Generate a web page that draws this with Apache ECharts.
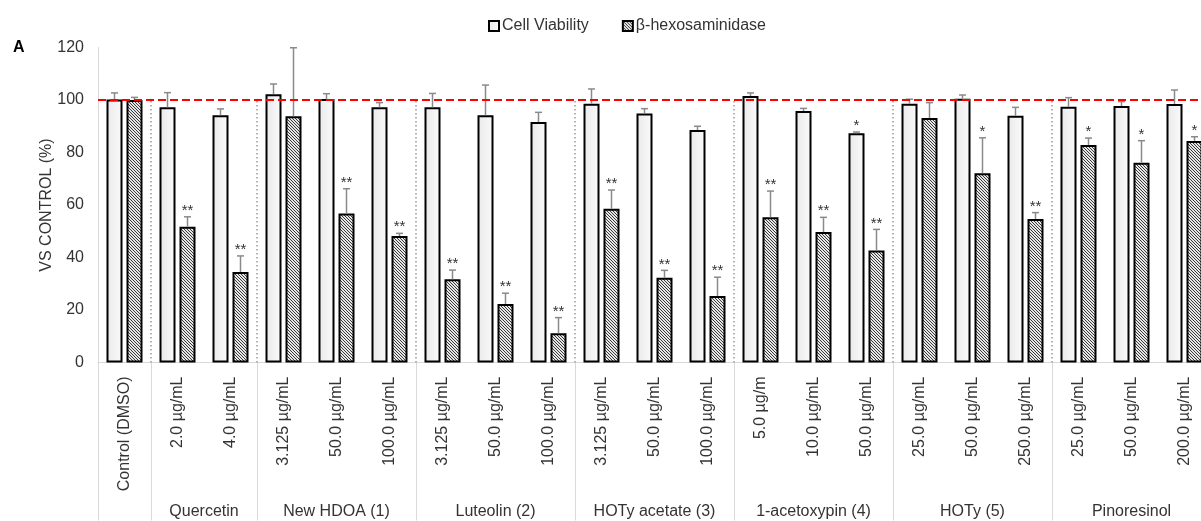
<!DOCTYPE html>
<html>
<head>
<meta charset="utf-8">
<script src="https://cdn.jsdelivr.net/npm/echarts@6/dist/echarts.min.js"></script>
<style>html,body{margin:0;padding:0;background:#fff;overflow:hidden;width:1201px;height:521px;}#c{width:1214px;height:521px;}</style>
</head>
<body>
<div id="c"></div>
<script>
const categories = ["Control (DMSO)", "2.0 µg/mL", "4.0 µg/mL", "3.125 µg/mL", "50.0 µg/mL", "100.0 µg/mL", "3.125 µg/mL", "50.0 µg/mL", "100.0 µg/mL", "3.125 µg/mL", "50.0 µg/mL", "100.0 µg/mL", "5.0 µg/m", "10.0 µg/mL", "50.0 µg/mL", "25.0 µg/mL", "50.0 µg/mL", "250.0 µg/mL", "25.0 µg/mL", "50.0 µg/mL", "200.0 µg/mL"];
const cellViability = [100.2, 97.2, 94.2, 102.2, 100.4, 97.2, 97.2, 94.2, 91.6, 98.6, 94.9, 88.6, 101.5, 95.8, 87.3, 98.6, 100.5, 94.0, 97.4, 97.7, 98.5];
const cellViabilityErr = [2.5, 5.6, 2.4, 3.9, 2.0, 1.8, 5.3, 11.5, 3.7, 5.6, 1.8, 1.4, 1.2, 1.0, 0.5, 1.7, 1.4, 3.2, 3.5, 1.7, 5.3];
const hexosaminidase = [100.0, 51.7, 34.5, 93.8, 56.8, 48.2, 31.7, 22.3, 11.1, 58.6, 32.3, 25.3, 55.3, 49.7, 42.7, 93.1, 72.1, 54.7, 82.9, 76.1, 84.4];
const hexosaminidaseErr = [1.0, 3.8, 6.1, 26.1, 9.4, 1.0, 3.5, 4.1, 6.0, 7.1, 2.8, 7.2, 10.0, 5.6, 8.0, 5.9, 13.5, 2.4, 2.6, 8.4, 1.6];
const cellViabilitySig = ["", "", "", "", "", "", "", "", "", "", "", "", "", "", "*", "", "", "", "", "", ""];
const hexosaminidaseSig = ["", "**", "**", "", "**", "**", "**", "**", "**", "**", "**", "**", "**", "**", "**", "", "*", "**", "*", "*", "*"];
const groupNames = ["Quercetin", "New HDOA (1)", "Luteolin (2)", "HOTy acetate (3)", "1-acetoxypin (4)", "HOTy (5)", "Pinoresinol"];
const groupStart = [1, 3, 6, 9, 12, 15, 18];
const groupSize = [2, 3, 3, 3, 3, 3, 3];
const yTicks = { min: 0, max: 120, interval: 20 };
const referenceLevel = 100;

const FONT = '"Liberation Sans", Arial, sans-serif';
const BAR_OFFSET = 10;

// hatch pattern
const hc = document.createElement('canvas');
hc.width = 3; hc.height = 3;
const hx = hc.getContext('2d');
hx.fillStyle = '#e6e6e6'; hx.fillRect(0, 0, 3, 3);
hx.fillStyle = '#3a3a3a';
for (let i = 0; i < 3; i++) hx.fillRect(i, i, 1, 1);
const hatch = { image: hc, repeat: 'repeat' };

const cvFill = { type: 'linear', x: 0, y: 0, x2: 1, y2: 0, colorStops: [{ offset: 0, color: '#e9e9e9' }, { offset: 1, color: '#fbfbfb' }] };

function errData(vals, errs) {
  return vals.map((v, i) => [i, v, errs[i], i]);
}

function errRender(offset, sigArr) {
  return function (params, api) {
    const i = api.value(0), v = api.value(1), e = api.value(2);
    const base = api.coord([i, v]);
    const top = api.coord([i, v + e]);
    const x = base[0] + offset;
    const children = [
      { type: 'line', shape: { x1: x, y1: base[1], x2: x, y2: top[1] }, style: { stroke: '#8a8a8a', lineWidth: 1.5 } },
      { type: 'line', shape: { x1: x - 3.5, y1: top[1], x2: x + 3.5, y2: top[1] }, style: { stroke: '#8a8a8a', lineWidth: 1.5 } }
    ];
    const s = sigArr[api.value(3)];
    if (s) {
      children.push({ type: 'text', style: { text: s, x: x, y: top[1] - 6, align: 'center', verticalAlign: 'middle', font: '15px ' + FONT, fill: '#333' } });
    }
    return { type: 'group', children };
  };
}

const chart = echarts.init(document.getElementById('c'));
chart.setOption({
  animation: false,
  textStyle: { fontFamily: FONT },
  graphic: [{ type: 'text', left: 13, top: 40, style: { text: 'A', font: 'bold 16px ' + FONT, fill: '#000' } }],
  legend: {
    left: 483, top: 13, itemWidth: 10, itemHeight: 10, itemGap: 33, icon: 'rect',
    textStyle: { fontSize: 16, color: '#333', fontFamily: FONT, padding: [0, 0, 0, -2] },
    data: ['Cell Viability', 'β-hexosaminidase']
  },
  grid: { left: 98, top: 47.5, height: 315, width: 1113, containLabel: false },
  xAxis: {
    type: 'category', data: categories,
    axisLine: { show: true, lineStyle: { color: '#d9d9d9', width: 1 } },
    axisTick: { show: true, length: 158, lineStyle: { color: '#d9d9d9', width: 1 },
      interval: function (idx) { return idx === 0 || groupStart.indexOf(idx) >= 0; } },
    axisLabel: { rotate: 90, fontSize: 16, color: '#333', margin: 14, interval: 0, fontFamily: FONT }
  },
  yAxis: {
    type: 'value', min: yTicks.min, max: yTicks.max, interval: yTicks.interval,
    name: 'VS CONTROL (%)', nameLocation: 'middle', nameGap: 43, nameMoveOverlap: false,
    nameTextStyle: { fontSize: 16, color: '#333', fontFamily: FONT },
    axisLine: { show: true, lineStyle: { color: '#d9d9d9', width: 1 } },
    axisTick: { show: false },
    splitLine: { show: false },
    axisLabel: { fontSize: 16, color: '#333', margin: 14, fontFamily: FONT }
  },
  series: [
    {
      name: 'Cell Viability', type: 'bar', data: cellViability, barWidth: 16, barGap: '25%',
      itemStyle: { color: cvFill, borderColor: '#000', borderWidth: 2 },
      z: 2,
      markLine: {
        silent: true, symbol: 'none', label: { show: false },
        lineStyle: { color: '#ff0000', type: [8, 4], width: 2 },
        data: [{ yAxis: referenceLevel }], z: 5
      }
    },
    {
      name: 'β-hexosaminidase', type: 'bar', data: hexosaminidase, barWidth: 16, barGap: '25%',
      itemStyle: { color: hatch, borderColor: '#000', borderWidth: 2 },
      z: 2
    },
    {
      type: 'custom', z: 3, silent: true,
      data: errData(cellViability, cellViabilityErr),
      renderItem: errRender(-BAR_OFFSET, cellViabilitySig)
    },
    {
      type: 'custom', z: 3, silent: true,
      data: errData(hexosaminidase, hexosaminidaseErr),
      renderItem: errRender(BAR_OFFSET, hexosaminidaseSig)
    },
    {
      type: 'custom', z: 4, silent: true,
      data: groupStart.map((s, k) => [s, groupSize[k], k]),
      renderItem: function (params, api) {
        const s = api.value(0), n = api.value(1), k = api.value(2);
        const bw = api.size([1, 0])[0];
        const p0 = api.coord([s, 0]);
        const p100 = api.coord([s, referenceLevel]);
        const xl = p0[0] - bw / 2;
        const pEnd = api.coord([s + n - 1, 0]);
        const xr = pEnd[0] + bw / 2;
        return { type: 'group', children: [
          { type: 'line', shape: { x1: xl, y1: p0[1], x2: xl, y2: p100[1] }, style: { stroke: '#9a9a9a', lineWidth: 1.5, lineDash: [1.5, 2.5] } },
          { type: 'text', style: { text: groupNames[k], x: (xl + xr) / 2, y: p0[1] + 149, align: 'center', verticalAlign: 'middle', font: '16px ' + FONT, fill: '#333' } }
        ] };
      }
    }
  ]
});
</script>
</body>
</html>
